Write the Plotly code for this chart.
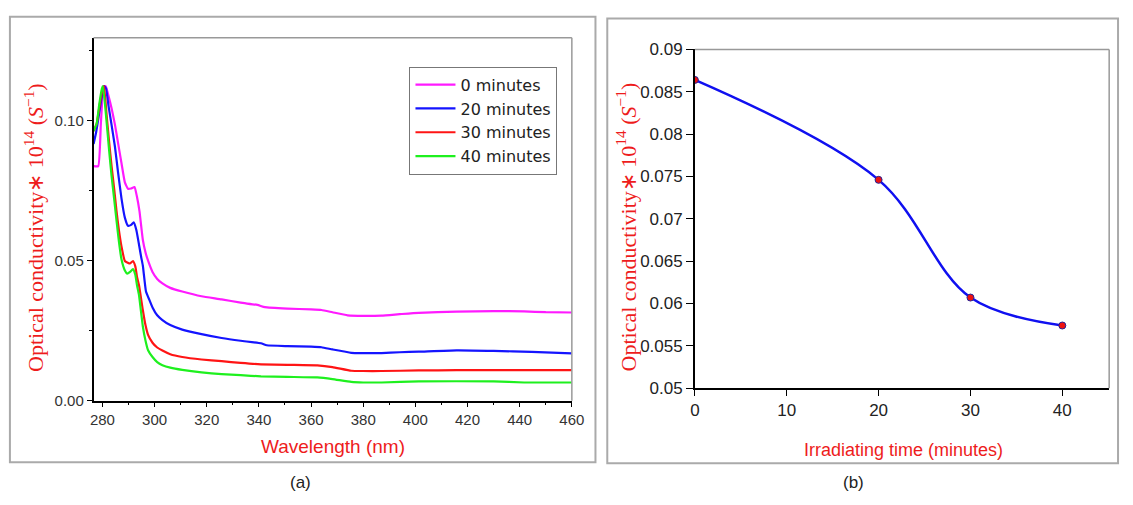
import plotly.graph_objects as go

# ---------------- data: panel (a) ----------------
wl0 = [276.6, 278.4, 279.4, 280.5, 281.3, 282.3, 283.5, 284.8, 286.0, 287.3, 288.6, 289.8, 291.0, 292.3, 293.2, 294.2, 295.5, 296.5, 297.5, 299.2, 301.0, 303.0, 306.0, 310.6, 318.0, 325.7, 333.0, 339.4, 342.3, 350.9, 360.0, 364.0, 368.2, 374.0, 380.0, 387.0, 394.0, 401.3, 415.8, 430.0, 441.7, 450.0, 460.0]
od0 = [0.0838, 0.0838, 0.0990, 0.1124, 0.1122, 0.1090, 0.1045, 0.0986, 0.0920, 0.0849, 0.0780, 0.0757, 0.0758, 0.0763, 0.0730, 0.0677, 0.0574, 0.0530, 0.0500, 0.0460, 0.0435, 0.0419, 0.0403, 0.0390, 0.0373, 0.0362, 0.0350, 0.0342, 0.0334, 0.0329, 0.0326, 0.0324, 0.0316, 0.0305, 0.0303, 0.0304, 0.0309, 0.0314, 0.0318, 0.0320, 0.0319, 0.0316, 0.0315]

wl20 = [276.6, 277.6, 278.8, 280.0, 280.7, 281.4, 282.3, 283.5, 284.8, 286.0, 287.3, 288.6, 289.8, 291.0, 292.0, 293.0, 294.8, 295.5, 296.7, 298.0, 299.2, 301.0, 303.0, 306.0, 310.6, 318.0, 325.7, 333.0, 340.8, 343.0, 350.9, 360.0, 364.0, 368.2, 375.4, 380.0, 387.0, 394.0, 401.3, 415.8, 430.0, 444.6, 460.0]
od20 = [0.0917, 0.0960, 0.1030, 0.1100, 0.1124, 0.1115, 0.1055, 0.0985, 0.0907, 0.0815, 0.0723, 0.0654, 0.0625, 0.0628, 0.0637, 0.0610, 0.0516, 0.0482, 0.0390, 0.0360, 0.0333, 0.0305, 0.0288, 0.0270, 0.0254, 0.0238, 0.0224, 0.0214, 0.0205, 0.0198, 0.0195, 0.0193, 0.0191, 0.0183, 0.0171, 0.0170, 0.0170, 0.0173, 0.0175, 0.0180, 0.0178, 0.0174, 0.0169]

wl30 = [276.6, 277.8, 279.0, 280.0, 280.6, 281.6, 282.5, 283.5, 284.5, 285.4, 286.3, 287.3, 288.6, 289.5, 290.6, 291.7, 292.6, 293.3, 294.0, 295.5, 296.5, 297.5, 299.2, 301.0, 303.0, 306.0, 310.6, 318.0, 325.7, 333.0, 340.8, 350.9, 362.4, 368.2, 375.4, 380.0, 387.0, 401.3, 415.8, 460.0]
od30 = [0.0963, 0.0990, 0.1060, 0.1110, 0.1124, 0.1020, 0.0930, 0.0838, 0.0757, 0.0677, 0.0610, 0.0551, 0.0499, 0.0494, 0.0490, 0.0499, 0.0480, 0.0440, 0.0413, 0.0323, 0.0270, 0.0235, 0.0207, 0.0190, 0.0179, 0.0166, 0.0156, 0.0147, 0.0141, 0.0135, 0.0130, 0.0128, 0.0126, 0.0120, 0.0107, 0.0106, 0.0106, 0.0108, 0.0109, 0.0109]

wl40 = [276.6, 277.8, 278.8, 279.8, 280.2, 281.6, 282.5, 283.5, 284.5, 285.4, 286.3, 287.3, 288.6, 289.5, 290.6, 291.7, 292.6, 293.3, 294.0, 295.5, 296.5, 297.5, 299.2, 301.0, 303.0, 306.0, 310.6, 318.0, 325.7, 333.0, 340.8, 350.9, 362.4, 368.2, 375.4, 380.0, 387.0, 401.3, 430.0, 441.7, 460.0]
od40 = [0.0963, 0.0990, 0.1060, 0.1115, 0.1124, 0.0996, 0.0900, 0.0803, 0.0720, 0.0643, 0.0570, 0.0505, 0.0465, 0.0454, 0.0460, 0.0470, 0.0450, 0.0410, 0.0378, 0.0265, 0.0215, 0.0180, 0.0156, 0.0138, 0.0127, 0.0118, 0.0110, 0.0101, 0.0095, 0.0091, 0.0087, 0.0085, 0.0083, 0.0077, 0.0067, 0.0065, 0.0065, 0.0069, 0.0069, 0.0065, 0.0065]

series_names = ["0 minutes", "20 minutes", "30 minutes", "40 minutes"]
series_colors = ["#ff1aff", "#1414ff", "#ff1414", "#1ef01e"]

# ---------------- data: panel (b) ----------------
irr_time = [0, 20, 30, 40]
irr_cond = [0.0864, 0.0746, 0.0607, 0.0574]

W, H = 1133, 505
def px(x): return x / W
def py(y): return 1 - y / H

fig = go.Figure()

for wl, od, nm, col in zip([wl0, wl20, wl30, wl40], [od0, od20, od30, od40], series_names, series_colors):
    fig.add_trace(go.Scatter(x=wl, y=od, mode="lines", name=nm,
                             line=dict(color=col, width=2.2, shape="spline", smoothing=0.4),
                             xaxis="x", yaxis="y"))

fig.add_trace(go.Scatter(x=irr_time, y=irr_cond, mode="lines+markers", showlegend=False,
                         line=dict(color="#1010f0", width=2.5, shape="spline", smoothing=1.0),
                         marker=dict(color="#ee1111", size=7, line=dict(color="#222299", width=1)),
                         xaxis="x2", yaxis="y2"))

tickfont = dict(family="Liberation Sans, Arial", size=15, color="#333333")
tickfont2 = dict(family="Liberation Sans, Arial", size=17, color="#222222")

fig.update_layout(
    width=W, height=H, margin=dict(l=0, r=0, t=0, b=0),
    paper_bgcolor="white", plot_bgcolor="white",
    showlegend=True,
    legend=dict(x=px(411), y=py(60), xanchor="left", yanchor="top",
                bordercolor="#777777", borderwidth=1, bgcolor="white",
                font=dict(family="DejaVu Sans, Liberation Sans", size=16, color="#222222"),
                tracegroupgap=0, itemwidth=40),
    xaxis=dict(domain=[px(90), px(576)], range=[276.6, 460], anchor="y",
               showline=True, linecolor="black", linewidth=1.5, showgrid=False, zeroline=False,
               ticks="outside", ticklen=5, tickcolor="black", tick0=280, dtick=20,
               minor=dict(dtick=10, ticks="outside", ticklen=3, tickcolor="black", showgrid=False),
               tickfont=tickfont),
    yaxis=dict(domain=[py(407), py(30)], range=[0, 0.1296], anchor="x",
               showline=True, linecolor="black", linewidth=1.5, showgrid=False, zeroline=False,
               ticks="outside", ticklen=5, tickcolor="black", tick0=0, dtick=0.05, tickformat=".2f",
               minor=dict(dtick=0.025, ticks="outside", ticklen=3, tickcolor="black", showgrid=False),
               tickfont=tickfont),
    xaxis2=dict(domain=[px(701), px(1122)], range=[0, 45.1], anchor="y2",
                showline=True, linecolor="black", linewidth=1.5, showgrid=False, zeroline=False,
                ticks="outside", ticklen=6, tickcolor="black", tick0=0, dtick=10,
                tickfont=tickfont2),
    yaxis2=dict(domain=[py(394), py(42)], range=[0.05, 0.09], anchor="x2",
                showline=True, linecolor="black", linewidth=1.5, showgrid=False, zeroline=False,
                ticks="outside", ticklen=7, tickcolor="black", tick0=0.05, dtick=0.005,
                tickfont=tickfont2),
)

shapes = []
# outer frames
shapes.append(dict(type="rect", xref="paper", yref="paper", x0=px(5), x1=px(600), y0=py(471), y1=py(8),
                   line=dict(color="#aaaaaa", width=2)))
shapes.append(dict(type="rect", xref="paper", yref="paper", x0=px(612), x1=px(1131), y0=py(472), y1=py(10),
                   line=dict(color="#aaaaaa", width=2)))
# grey top/right borders of plot areas
for xa, ya in [("x", "y"), ("x2", "y2")]:
    shapes.append(dict(type="line", xref=f"{xa} domain", yref=f"{ya} domain", x0=0, x1=1, y0=1, y1=1,
                       line=dict(color="#999999", width=1.5)))
    shapes.append(dict(type="line", xref=f"{xa} domain", yref=f"{ya} domain", x0=1, x1=1, y0=0, y1=1,
                       line=dict(color="#999999", width=1.5)))
fig.update_layout(shapes=shapes)

ytitle = "Optical conductivity∗ 10<sup>14</sup> (<i>S</i><sup>−1</sup>)"
red = "#ee1c1c"
def note(x, y, text, font, angle=0):
    return dict(x=px(x), y=py(y), text=text, textangle=angle, showarrow=False,
                xref="paper", yref="paper", xanchor="center", yanchor="middle", font=font)

serif_font = dict(family="Liberation Serif, Times New Roman", size=22, color=red)
ann = [
    note(30, 227, ytitle, serif_font, -90),
    note(632, 226, ytitle, serif_font, -90),
    note(333, 455, "Wavelength (nm)", dict(family="Liberation Sans, Arial", size=19, color=red)),
    note(913, 458, "Irradiating time (minutes)", dict(family="Liberation Sans, Arial", size=18, color=red)),
    note(300, 492, "(a)", dict(family="Liberation Sans, Arial", size=17, color="#222222")),
    note(862, 492, "(b)", dict(family="Liberation Sans, Arial", size=17, color="#222222")),
]
fig.update_layout(annotations=ann)

fig.write_html("out.html")
